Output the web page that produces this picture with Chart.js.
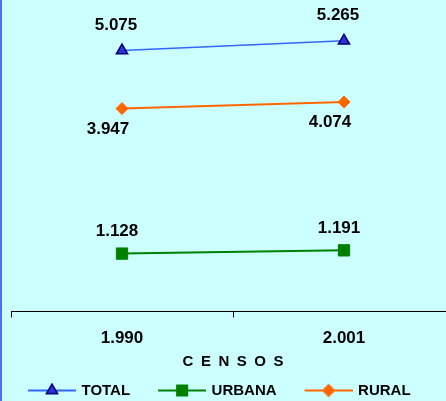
<!DOCTYPE html>
<html>
<head>
<meta charset="utf-8">
<script src="https://cdn.jsdelivr.net/npm/chart.js@4/dist/chart.umd.min.js"></script>
<style>
    html, body { margin: 0; padding: 0; overflow: hidden; background: #ccffff; }
    #marco { position: relative; width: 446px; height: 401px; overflow: hidden; }
    #grafica { display: block; }
    #borde { position: absolute; left: 0; top: 0; width: 2px; height: 401px; background: #4a6cff; }
</style>
</head>
<body>
<div id="marco"><canvas id="grafica" width="455" height="401"></canvas><div id="borde"></div></div>
<script type="text/javascript">

    // Censos (eje X)
    var censos = ["1.990", "2.001"]
    // Poblacion por censo
    var total = [5075, 5265]
    var urbana = [1128, 1191]
    var rural = [3947, 4074]
    var ejeMax = 6000
    var tituloEje = "C\u2002E\u2002N\u2002S\u2002O\u2002S"

    var fuente = '"Liberation Sans", Arial, sans-serif'
    Chart.defaults.font.family = fuente
    Chart.defaults.color = "#000"

    function formato(n) {
        return String(n).replace(/\B(?=(\d{3})+(?!\d))/g, ".")
    }

    // muestra de la leyenda: linea con el marcador al centro
    function muestra(linea, relleno, borde, estilo, radio) {
        var c = document.createElement("canvas")
        c.width = 78
        c.height = 16
        var g = c.getContext("2d")
        g.strokeStyle = linea
        g.lineWidth = 2
        g.beginPath()
        g.moveTo(30, 8)
        g.lineTo(78, 8)
        g.stroke()
        g.fillStyle = relleno
        g.strokeStyle = borde
        g.lineWidth = 1.5
        Chart.helpers.drawPoint(g, {pointStyle: estilo, radius: radio, borderWidth: 1.5, rotation: 0}, 54, 8)
        return c
    }

    var muestras = [
        muestra("#3366ff", "#3333cc", "#000080", "triangle", 6.5),
        muestra("#008000", "#008000", "#008000", "rect", 7.5),
        muestra("#ff6600", "#ff6600", "#ff6600", "rectRot", 5.8)
    ]

    // etiquetas con el valor de cada punto
    var etiquetas = {
        id: "etiquetas",
        afterDatasetsDraw: function(chart, args, opciones) {
            var ctx = chart.ctx
            ctx.save()
            ctx.font = "bold 17px " + fuente
            ctx.fillStyle = "#000"
            ctx.textAlign = "center"
            ctx.textBaseline = "middle"
            chart.data.datasets.forEach(function(ds, i) {
                var d = opciones.desfases[i]
                chart.getDatasetMeta(i).data.forEach(function(p, j) {
                    ctx.fillText(formato(ds.data[j]), p.x + d[0], p.y + d[1])
                })
            })
            ctx.restore()
        }
    }

    var datos = {
        labels: censos,
        datasets: [{
            label: "TOTAL",
            data: total,
            borderColor: "#3366ff",
            borderWidth: 1.5,
            pointStyle: "triangle",
            pointRadius: 6.5,
            pointBackgroundColor: "#3333cc",
            pointBorderColor: "#000080",
            pointBorderWidth: 1.5
        }, {
            label: "URBANA",
            data: urbana,
            borderColor: "#008000",
            borderWidth: 2,
            pointStyle: "rect",
            pointRadius: 8,
            pointBackgroundColor: "#008000",
            pointBorderColor: "#008000",
            pointBorderWidth: 1
        }, {
            label: "RURAL",
            data: rural,
            borderColor: "#ff6600",
            borderWidth: 2,
            pointStyle: "rectRot",
            pointRadius: 6,
            pointBackgroundColor: "#ff6600",
            pointBorderColor: "#ff6600",
            pointBorderWidth: 1
        }]
    }

    new Chart(document.getElementById("grafica"), {
        type: "line",
        data: datos,
        plugins: [etiquetas],
        options: {
            responsive: false,
            animation: false,
            layout: { autoPadding: false, padding: { top: 3, left: 0, right: 0, bottom: 0 } },
            scales: {
                x: {
                    offset: true,
                    grid: { display: true, offset: true, drawOnChartArea: false, tickLength: 6, color: "#000" },
                    border: { display: true, color: "#000", width: 1 },
                    ticks: { color: "#000", font: { size: 17, weight: "bold" }, padding: 11, maxRotation: 0 },
                    title: {
                        display: true,
                        text: tituloEje,
                        color: "#000",
                        font: { size: 15, weight: "bold" },
                        padding: { top: -7, bottom: 12 }
                    }
                },
                y: {
                    min: 0,
                    max: ejeMax,
                    ticks: { display: false },
                    grid: { display: false },
                    border: { display: false },
                    afterFit: function(s) { s.width = 11 }
                }
            },
            plugins: {
                legend: {
                    position: "bottom",
                    align: "start",
                    maxHeight: 18,
                    labels: {
                        usePointStyle: true,
                        pointStyleWidth: 74,
                        padding: 0,
                        color: "#000",
                        font: { size: 15, weight: "bold" },
                        generateLabels: function(chart) {
                            var items = Chart.defaults.plugins.legend.labels.generateLabels(chart)
                            items.forEach(function(it, i) { it.pointStyle = muestras[i] })
                            return items
                        }
                    }
                },
                tooltip: { enabled: false },
                etiquetas: { desfases: [[-6, -25], [-5, -22], [-14, 20.5]] }
            }
        }
    })

</script>
</body>
</html>
